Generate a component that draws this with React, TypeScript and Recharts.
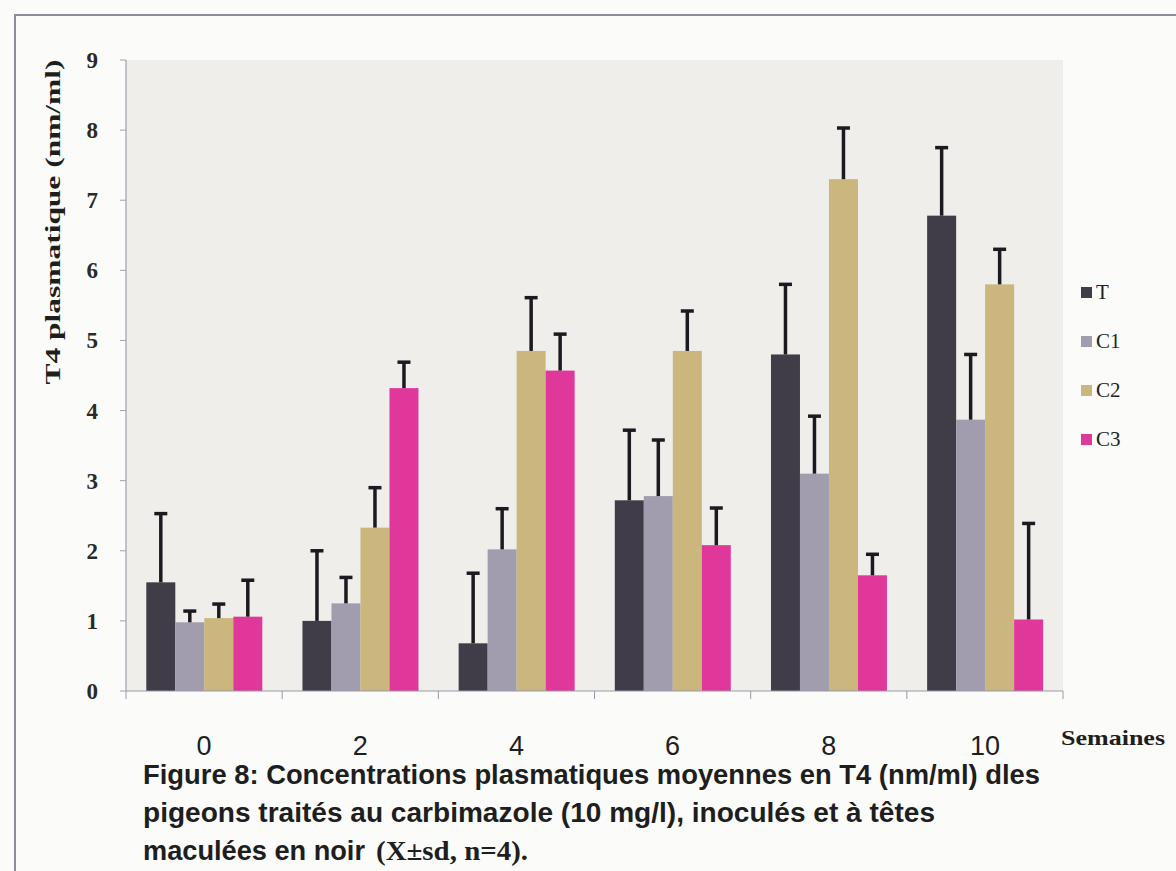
import React from 'react';
import { BarChart, Bar, XAxis, YAxis, CartesianGrid, Legend } from 'recharts';

// semaines de traitement
const weeks = ['0', '2', '4', '6', '8', '10'];

// moyennes T4 plasmatique (nm/ml) par lot
const tMeans = [1.55, 1.0, 0.68, 2.72, 4.8, 6.78];
const c1Means = [0.98, 1.25, 2.02, 2.78, 3.1, 3.87];
const c2Means = [1.04, 2.33, 4.85, 4.85, 7.3, 5.8];
const c3Means = [1.06, 4.32, 4.57, 2.08, 1.65, 1.02];

// écarts-types (barres d'erreur vers le haut seulement)
const tSd = [0.98, 1.0, 1.0, 1.0, 1.0, 0.97];
const c1Sd = [0.16, 0.37, 0.58, 0.8, 0.82, 0.93];
const c2Sd = [0.2, 0.57, 0.76, 0.57, 0.73, 0.5];
const c3Sd = [0.52, 0.37, 0.52, 0.53, 0.3, 1.37];

const yTicks = [0, 1, 2, 3, 4, 5, 6, 7, 8, 9];

const data = weeks.map((w, i) => ({
  semaine: w,
  T: tMeans[i],
  C1: c1Means[i],
  C2: c2Means[i],
  C3: c3Means[i],
  tSd: tSd[i],
  c1Sd: c1Sd[i],
  c2Sd: c2Sd[i],
  c3Sd: c3Sd[i],
}));

const series = [
  { key: 'T', sd: 'tSd', color: '#403c48' },
  { key: 'C1', sd: 'c1Sd', color: '#a19dae' },
  { key: 'C2', sd: 'c2Sd', color: '#cbb67d' },
  { key: 'C3', sd: 'c3Sd', color: '#e0379b' },
];
const seriesOrder = series.map((s) => s.key);

// bar + one-sided error bar, scaled from the bar's own pixel height
const makeBarShape = (valueKey: string, sdKey: string) => (props: any) => {
  const { x, y, width, height, fill, payload } = props;
  const v = payload[valueKey];
  const pxPerUnit = v ? height / v : 0;
  const top = y - payload[sdKey] * pxPerUnit;
  const cx = x + width / 2;
  return (
    <g>
      <rect x={x} y={y} width={width} height={height} fill={fill} />
      <line x1={cx} x2={cx} y1={y} y2={top} stroke="#1c1a20" strokeWidth={3.5} />
      <line x1={cx - 6.5} x2={cx + 6.5} y1={top} y2={top} stroke="#1c1a20" strokeWidth={3.5} />
    </g>
  );
};

const XTick = (props: any) => {
  const { x, y, payload, index } = props;
  const half = payload.offset || 0;
  const last = index === weeks.length - 1;
  return (
    <g>
      <line x1={x - half} x2={x - half} y1={y} y2={y + 8} stroke="#9a9aa8" strokeWidth={1} />
      {last && <line x1={x + half} x2={x + half} y1={y} y2={y + 8} stroke="#9a9aa8" strokeWidth={1} />}
      <text
        x={x}
        y={y + 64}
        textAnchor="middle"
        fontFamily="'Liberation Sans Narrow', 'Liberation Sans', sans-serif"
        fontSize={27}
        fill="#1e1e1e"
      >
        {payload.value}
      </text>
    </g>
  );
};

const YTick = (props: any) => {
  const { x, y, payload } = props;
  return (
    <text
      x={x - 20}
      y={y + 8}
      textAnchor="end"
      fontFamily="'Liberation Serif', serif"
      fontWeight="bold"
      fontSize={23}
      fill="#2a2a2a"
    >
      {payload.value}
    </text>
  );
};

const LegendBox = (props: any) => {
  const items = [...(props.payload || [])].sort(
    (a: any, b: any) => seriesOrder.indexOf(a.value) - seriesOrder.indexOf(b.value)
  );
  return (
    <div style={{ display: 'flex', flexDirection: 'column' }}>
      {items.map((entry: any) => (
        <div key={entry.value} style={{ display: 'flex', alignItems: 'center', height: 49 }}>
          <span style={{ width: 11, height: 11, background: entry.color, marginRight: 4 }} />
          <span
            style={{
              fontFamily: "'Liberation Serif', serif",
              fontSize: 21,
              color: '#222',
              lineHeight: 1,
            }}
          >
            {entry.value}
          </span>
        </div>
      ))}
    </div>
  );
};

const captionFont = "'Liberation Sans Narrow', 'Liberation Sans', sans-serif";

const App = () => {
  return (
    <div
      style={{
        position: 'fixed',
        left: 0,
        top: 0,
        width: 1176,
        height: 871,
        background: '#fbfbf9',
      }}
    >
      <BarChart
        width={1176}
        height={871}
        data={data}
        margin={{ top: 60, right: 33, bottom: 120, left: 66 }}
        barGap={0}
        barCategoryGap="13%"
      >
        <CartesianGrid horizontal={false} vertical={false} fill="#efeeeb" />
        <XAxis
          dataKey="semaine"
          height={60}
          tickLine={false}
          tickSize={0}
          tickMargin={0}
          axisLine={{ stroke: '#9a9aa8', strokeWidth: 1.2 }}
          tick={<XTick />}
          interval={0}
        />
        <YAxis
          width={60}
          domain={[0, 9]}
          ticks={yTicks}
          allowDecimals={false}
          axisLine={{ stroke: '#a0a0ae', strokeWidth: 1.2 }}
          tickLine={{ stroke: '#a0a0ae' }}
          tickSize={6}
          tick={<YTick />}
        />
        <Legend
          layout="vertical"
          align="right"
          verticalAlign="top"
          content={<LegendBox />}
          wrapperStyle={{ left: 1081, top: 268, width: 80 }}
        />
        {series.map((s) => (
          <Bar
            key={s.key}
            dataKey={s.key}
            fill={s.color}
            isAnimationActive={false}
            shape={makeBarShape(s.key, s.sd)}
          />
        ))}
      </BarChart>

      <svg
        width={1176}
        height={871}
        style={{ position: 'absolute', left: 0, top: 0, pointerEvents: 'none' }}
      >
        <polyline points="15,871 15,15 1176,15" fill="none" stroke="#8d8c9c" strokeWidth={2} />
        <text
          transform="translate(60,222) rotate(-90)"
          textAnchor="middle"
          fontFamily="'Liberation Serif', serif"
          fontWeight="bold"
          fontSize={22}
          fill="#1e1e1e"
          textLength={325}
          lengthAdjust="spacingAndGlyphs"
        >
          T4 plasmatique (nm/ml)
        </text>
        <text
          x={1061}
          y={745}
          fontFamily="'Liberation Serif', serif"
          fontWeight="bold"
          fontSize={22}
          fill="#1e1e1e"
          textLength={104}
          lengthAdjust="spacingAndGlyphs"
        >
          Semaines
        </text>
        <g fontFamily={captionFont} fontWeight="bold" fontSize={27} fill="#1e1e1e">
          <text x={143} y={784} textLength={897} lengthAdjust="spacingAndGlyphs">
            Figure 8: Concentrations plasmatiques moyennes en T4 (nm/ml) dles
          </text>
          <text x={143} y={822} textLength={792} lengthAdjust="spacingAndGlyphs">
            pigeons traités au carbimazole (10 mg/l), inoculés et à têtes
          </text>
          <text x={143} y={860}>
            <tspan textLength={222} lengthAdjust="spacingAndGlyphs">maculées en noir</tspan>
            <tspan
              x={376}
              fontFamily="'Liberation Serif', serif"
              fontSize={27}
              textLength={152}
              lengthAdjust="spacingAndGlyphs"
            >
              (X±sd, n=4).
            </tspan>
          </text>
        </g>
      </svg>
    </div>
  );
};

export default App;
